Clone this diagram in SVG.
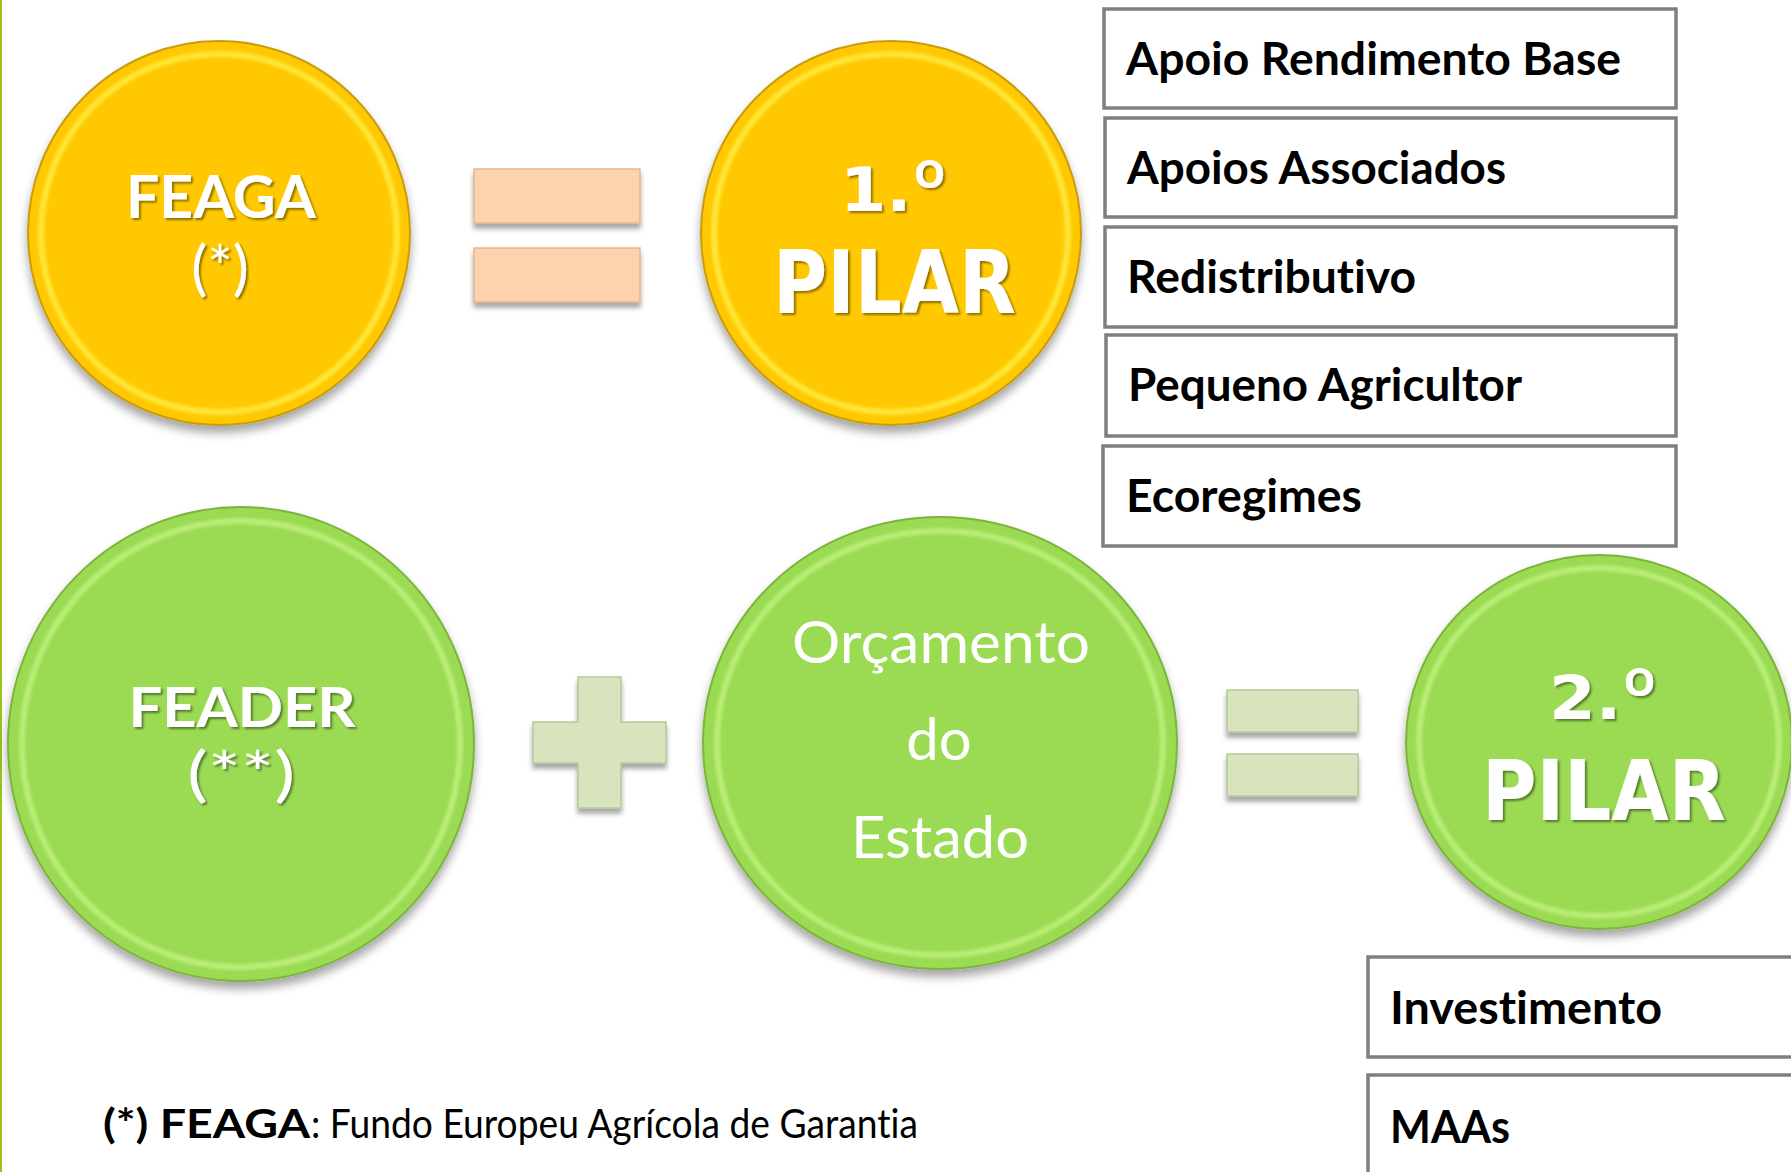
<svg xmlns="http://www.w3.org/2000/svg" width="1791" height="1172" viewBox="0 0 1791 1172">
<defs>
<filter id="shadow" x="-20%" y="-20%" width="140%" height="150%">
<feDropShadow dx="0" dy="7" stdDeviation="5" flood-color="#000" flood-opacity="0.35"/>
</filter>
<filter id="barshadow" x="-10%" y="-20%" width="120%" height="160%">
<feDropShadow dx="0" dy="5" stdDeviation="2.5" flood-color="#000" flood-opacity="0.35"/>
</filter>
<filter id="txtshadow" x="-10%" y="-10%" width="120%" height="130%">
<feDropShadow dx="2" dy="2" stdDeviation="1.2" flood-color="#000" flood-opacity="0.45"/>
</filter>
<filter id="soft"><feGaussianBlur stdDeviation="1.6"/></filter>
</defs>
<style>
text{font-variant-ligatures:none;font-feature-settings:"liga" 0,"clig" 0}
.gold{fill:#FFC800;stroke:#C99C10;stroke-width:2}
.goldrim{fill:none;stroke:#FFEA3C;stroke-width:6;opacity:0.9}
.green{fill:#9BDA52;stroke:#7CB43C;stroke-width:2}
.greenrim{fill:none;stroke:#BDF07A;stroke-width:6;opacity:0.9}
.peach{fill:#FDD2AE;stroke:#E7B48F;stroke-width:1.5}
.sage{fill:#D7E4BD;stroke:#B7C898;stroke-width:1.5}
.box{fill:#FFFFFF;stroke:#7F7F7F;stroke-width:3.5}
.wb{font-family:Lato,"Open Sans",sans-serif;font-weight:bold;fill:#FFFFFF}
.wr{font-family:Lato,"Open Sans",sans-serif;font-weight:normal;fill:#FFFFFF}
.pil{font-family:"DejaVu Sans",Verdana,sans-serif;font-weight:bold;fill:#FFFFFF}
.ord{font-family:Roboto,"DejaVu Sans",sans-serif;font-weight:bold}
.lbl{font-family:Lato,"Open Sans",sans-serif;font-weight:bold;font-size:45px;fill:#000000}
.foot{font-family:Lato,"Open Sans",sans-serif;font-size:40px;fill:#000000}
</style>
<rect x="0" y="0" width="1791" height="1172" fill="#FFFFFF"/>
<rect x="0" y="0" width="2" height="1172" fill="#9CC31B"/>

<g id="feaga">
<ellipse class="gold" cx="219" cy="233" rx="191" ry="192" filter="url(#shadow)"/>
<ellipse class="goldrim" cx="219" cy="233" rx="178" ry="179" filter="url(#soft)"/>
<g filter="url(#txtshadow)">
<text class="wb" x="221" y="218" font-size="60" text-anchor="middle" textLength="190" lengthAdjust="spacingAndGlyphs">FEAGA</text>
<text class="wr" x="220" y="289" font-size="60" text-anchor="middle">(*)</text>
</g>
</g>

<g id="pilar1">
<ellipse class="gold" cx="891" cy="233" rx="190" ry="192" filter="url(#shadow)"/>
<ellipse class="goldrim" cx="891" cy="233" rx="177" ry="179" filter="url(#soft)"/>
<g filter="url(#txtshadow)">
<text class="pil" x="840" y="211" font-size="60" textLength="108" lengthAdjust="spacingAndGlyphs">1.<tspan class="ord" font-size="72">º</tspan></text>
<text class="pil" x="773" y="313" font-size="87" textLength="243" lengthAdjust="spacingAndGlyphs">PILAR</text>
</g>
</g>

<g id="pilar1-items">
<g id="item-arb"><rect class="box" x="1104" y="9" width="572" height="99"/><text class="lbl" x="1126" y="75" textLength="495" lengthAdjust="spacingAndGlyphs">Apoio Rendimento Base</text></g>
<g id="item-aa"><rect class="box" x="1105" y="118" width="571" height="99"/><text class="lbl" x="1127" y="184" textLength="379" lengthAdjust="spacingAndGlyphs">Apoios Associados</text></g>
<g id="item-red"><rect class="box" x="1105" y="227" width="571" height="100"/><text class="lbl" x="1127" y="293" textLength="289" lengthAdjust="spacingAndGlyphs">Redistributivo</text></g>
<g id="item-pa"><rect class="box" x="1106" y="335" width="570" height="101"/><text class="lbl" x="1128" y="401" textLength="394" lengthAdjust="spacingAndGlyphs">Pequeno Agricultor</text></g>
<g id="item-eco"><rect class="box" x="1103" y="446" width="573" height="100"/><text class="lbl" x="1126" y="512" textLength="236" lengthAdjust="spacingAndGlyphs">Ecoregimes</text></g>
</g>

<g id="feader">
<ellipse class="green" cx="241" cy="744" rx="233" ry="237" filter="url(#shadow)"/>
<ellipse class="greenrim" cx="241" cy="744" rx="219" ry="223" filter="url(#soft)"/>
<g filter="url(#txtshadow)">
<text class="wb" x="242" y="727" font-size="56" text-anchor="middle" textLength="227" lengthAdjust="spacingAndGlyphs">FEADER</text>
<text class="wr" x="241" y="795" font-size="60" text-anchor="middle" textLength="108" lengthAdjust="spacingAndGlyphs">(**)</text>
</g>
</g>

<g id="orcamento">
<ellipse class="green" cx="940" cy="743" rx="237" ry="226" filter="url(#shadow)"/>
<ellipse class="greenrim" cx="940" cy="743" rx="223" ry="212" filter="url(#soft)"/>
<text class="wr" x="941" y="663" font-size="58" text-anchor="middle" textLength="298" lengthAdjust="spacingAndGlyphs">Orçamento</text>
<text class="wr" x="939" y="760" font-size="58" text-anchor="middle">do</text>
<text class="wr" x="940" y="858" font-size="58" text-anchor="middle" textLength="178" lengthAdjust="spacingAndGlyphs">Estado</text>
</g>

<g id="pilar2">
<ellipse class="green" cx="1599" cy="742" rx="193" ry="187" filter="url(#shadow)"/>
<ellipse class="greenrim" cx="1599" cy="742" rx="180" ry="174" filter="url(#soft)"/>
<g filter="url(#txtshadow)">
<text class="pil" x="1549" y="719" font-size="60" textLength="109" lengthAdjust="spacingAndGlyphs">2.<tspan class="ord" font-size="72">º</tspan></text>
<text class="pil" x="1482" y="820" font-size="83" textLength="244" lengthAdjust="spacingAndGlyphs">PILAR</text>
</g>
</g>

<g id="pilar2-items">
<g id="item-inv"><rect class="box" x="1368" y="957" width="440" height="100"/><text class="lbl" x="1390" y="1024" textLength="272" lengthAdjust="spacingAndGlyphs">Investimento</text></g>
<g id="item-maa"><rect class="box" x="1368" y="1075" width="440" height="120"/><text class="lbl" x="1390" y="1143" textLength="120" lengthAdjust="spacingAndGlyphs">MAAs</text></g>
</g>

<g id="connectors">
<g id="eq1" filter="url(#barshadow)">
<rect class="peach" x="474" y="169" width="166" height="54"/>
<rect class="peach" x="474" y="248" width="166" height="54"/>
</g>
<g id="plus" filter="url(#barshadow)">
<path class="sage" d="M578 677 H621 V722 H666 V763 H621 V808 H578 V763 H533 V722 H578 Z"/>
</g>
<g id="eq2" filter="url(#barshadow)">
<rect class="sage" x="1227" y="690" width="131" height="42"/>
<rect class="sage" x="1227" y="754" width="131" height="42"/>
</g>
</g>

<g id="footnote">
<text class="foot" x="103" y="1138" font-weight="bold" textLength="207" lengthAdjust="spacingAndGlyphs">(*) FEAGA</text>
<text class="foot" x="311" y="1138" textLength="607" lengthAdjust="spacingAndGlyphs">: Fundo Europeu Agrícola de Garantia</text>
</g>
</svg>
